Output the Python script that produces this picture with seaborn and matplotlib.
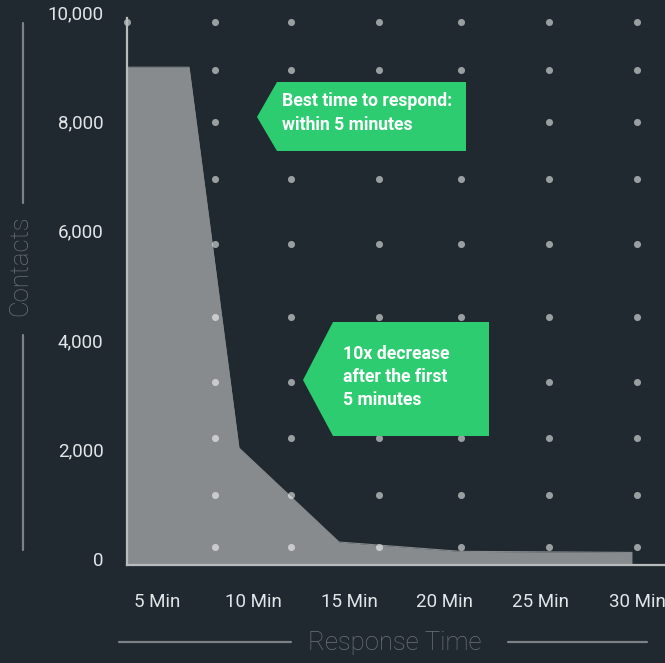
import matplotlib
matplotlib.use("Agg")
import matplotlib.pyplot as plt
from matplotlib.patches import Polygon
from matplotlib.lines import Line2D
from matplotlib.transforms import ScaledTranslation
import seaborn as sns
import pandas as pd

# ---- data ----
response_min = [3.44, 6.67, 9.27, 14.48, 20.8, 29.74]
contacts = [9100, 9100, 2140, 420, 250, 230]
x_ticks = [5, 10, 15, 20, 25, 30]
x_labels = ["5 Min", "10 Min", "15 Min", "20 Min", "25 Min", "30 Min"]
y_ticks = [0, 2000, 4000, 6000, 8000, 10000]
y_labels = ["0", "2,000", "4,000", "6,000", "8,000", "10,000"]
dot_cols = [8.02, 11.98, 16.56, 20.83, 25.42, 30.0]
dot_rows = [9930, 9050, 8100, 7060, 5870, 4530, 3350, 2320, 1280, 330]
corner_dot_x = [3.44]
corner_dot_y = [9930]
note1 = "Best time to respond:\nwithin 5 minutes"
note2 = "10x decrease\nafter the first\n5 minutes"
x_title = "Response Time"
y_title = "Contacts"

BG = "#1f292f"
AREA = "#878b8e"
GREEN = "#2ecc71"
TICK = "#e2e6e8"
TITLE = "#6e7477"
RULE = "#7d8285"
SPINE = "#b8bcbe"

sns.set_theme(style="dark")
plt.rcParams["font.family"] = ["Roboto", "DejaVu Sans"]

W, H = 665, 663
fig = plt.figure(figsize=(W / 100, H / 100), dpi=100, facecolor=BG)
ax = fig.add_axes([127 / W, 1 - 565 / H, (W - 127) / W, (565 - 18) / H])
ax.set_facecolor(BG)

def px(x, y):
    return (x / W, 1 - y / H)

df = pd.DataFrame({"minutes": response_min, "contacts": contacts})
ax.fill_between(df["minutes"], df["contacts"], 0, color=AREA, linewidth=0, zorder=1)
sns.lineplot(data=df, x="minutes", y="contacts", ax=ax, color=AREA, linewidth=0.8, zorder=1)

grid = pd.DataFrame(
    [(x, y) for x in dot_cols for y in dot_rows] + list(zip(corner_dot_x, corner_dot_y)),
    columns=["x", "y"],
)
sns.scatterplot(data=grid, x="x", y="y", ax=ax, color="white", alpha=0.55, s=26,
                linewidth=0, zorder=3, clip_on=False)

ax.set_xlim(3.44, 31.46)
ax.set_ylim(0, 10000)
ax.set_xticks(x_ticks)
ax.set_xticklabels(x_labels)
ax.set_yticks(y_ticks)
ax.set_yticklabels(y_labels)
ax.tick_params(axis="both", length=0, labelsize=13.5, colors=TICK)
ax.tick_params(axis="x", pad=20)
ax.tick_params(axis="y", pad=17)
shift = ScaledTranslation(0, 6 / 100, fig.dpi_scale_trans)
for lab in ax.get_yticklabels():
    lab.set_transform(lab.get_transform() + shift)
ax.set_xlabel("")
ax.set_ylabel("")
ax.grid(False)
for s in ["top", "right"]:
    ax.spines[s].set_visible(False)
for s in ["left", "bottom"]:
    ax.spines[s].set_visible(True)
    ax.spines[s].set_color(SPINE)
    ax.spines[s].set_linewidth(1.6)
    ax.spines[s].set_zorder(4)

# axis titles with side rules
fig.text(*px(395, 643), x_title, color=TITLE, fontsize=18.5, fontweight="light",
         ha="center", va="center")
fig.add_artist(Line2D([119 / W, 291 / W], [1 - 642 / H] * 2, color=RULE, lw=1.6))
fig.add_artist(Line2D([508 / W, 647 / W], [1 - 642 / H] * 2, color=RULE, lw=1.6))
fig.text(*px(20, 266), y_title, color=TITLE, fontsize=18.5, fontweight="light",
         ha="center", va="center", rotation=90)
fig.add_artist(Line2D([23 / W] * 2, [1 - 23 / H, 1 - 203 / H], color=RULE, lw=1.6))
fig.add_artist(Line2D([23 / W] * 2, [1 - 335 / H, 1 - 550 / H], color=RULE, lw=1.6))

# callouts
box1 = [px(257, 117), px(277, 82), px(466, 82), px(466, 151), px(277, 151)]
fig.add_artist(Polygon(box1, closed=True, transform=fig.transFigure,
                       facecolor=GREEN, edgecolor="none", zorder=5))
fig.text(*px(282, 113), note1, color="white", fontsize=12.7, fontweight="bold",
         ha="left", va="center", linespacing=1.36, zorder=6)

box2 = [px(303, 380), px(333, 322), px(489, 322), px(489, 436), px(333, 436)]
fig.add_artist(Polygon(box2, closed=True, transform=fig.transFigure,
                       facecolor=GREEN, edgecolor="none", zorder=5))
fig.text(*px(343, 377), note2, color="white", fontsize=12.7, fontweight="bold",
         ha="left", va="center", linespacing=1.36, zorder=6)

fig.savefig("out.png", dpi=100, facecolor=BG)
